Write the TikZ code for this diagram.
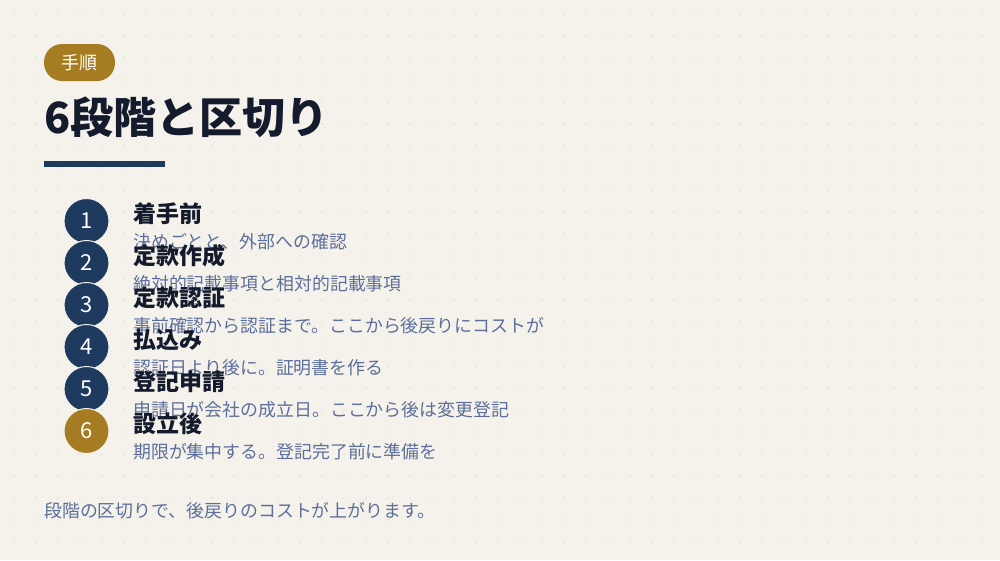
\documentclass[tikz,border=0pt]{standalone}
\usepackage{fontspec}
\setmainfont{Noto Sans CJK JP}
\usetikzlibrary{positioning}

\definecolor{paper}{HTML}{F5F2EC}
\definecolor{dotgray}{HTML}{DCD8CF}
\definecolor{navy}{HTML}{1F3A5F}
\definecolor{gold}{HTML}{A67C22}
\definecolor{ink}{HTML}{141B2D}
\definecolor{slate}{HTML}{5C6F9A}

\begin{document}
\begin{tikzpicture}[
	x=1pt,
	y=-1pt]

\tikzstyle{step circle}=[circle,minimum size=45pt,inner sep=0pt,draw=paper,line width=1pt,
	text=white,font=\fontsize{22}{22}\selectfont]
\tikzstyle{step title}=[anchor=base west,inner sep=0pt,text=ink,font=\bfseries\fontsize{23}{23}\selectfont]
\tikzstyle{step text}=[anchor=base west,inner sep=0pt,text=slate,font=\fontsize{17.9}{17.9}\selectfont]

\def\LeftX{44}
\def\CircleX{86.5}
\def\TextX{133}
\def\FirstStep{221}
\def\StepGap{42}

\useasboundingbox (0,0) rectangle (1000,560);

% Paper and dot grid
\fill[paper] (0,0) rectangle (1000,560);
\foreach \gx in {0,...,44}
	\foreach \gy in {0,...,24}
		\fill[dotgray] ({14+22*\gx},{14+22*\gy}) circle (0.8);

% Tag
\node (tag) at (79.5,62.5) [fill=gold,rounded corners=18pt,minimum width=71pt,minimum height=37pt,
	inner sep=0pt,text=white,font=\fontsize{18}{18}\selectfont] {手順};

% Heading and underline
\node (heading) at (\LeftX,133) [anchor=base west,inner sep=0pt,text=ink,
	font=\bfseries\fontsize{43}{43}\selectfont] {6段階と区切り};
\fill[navy] (\LeftX,161) rectangle (165,167);

% Steps
\foreach \n/\Fill/\Title/\Text [count=\i from 0] in {
	1/navy/着手前/決めごとと、外部への確認,
	2/navy/定款作成/絶対的記載事項と相対的記載事項,
	3/navy/定款認証/事前確認から認証まで。ここから後戻りにコストが,
	4/navy/払込み/認証日より後に。証明書を作る,
	5/navy/登記申請/申請日が会社の成立日。ここから後は変更登記,
	6/gold/設立後/期限が集中する。登記完了前に準備を} {
	\pgfmathsetmacro{\StepY}{\FirstStep + \i * \StepGap}
	\node (num\n) at (\CircleX,\StepY) [step circle,fill=\Fill] {\n};
	\node (title\n) at (\TextX,\StepY+1.5) [step title] {\Title};
	\node (text\n) at (\TextX,\StepY+27.5) [step text] {\Text};
}

% Summary
\node (summary) at (\LeftX,517.5) [step text] {段階の区切りで、後戻りのコストが上がります。};

\end{tikzpicture}
\end{document}
